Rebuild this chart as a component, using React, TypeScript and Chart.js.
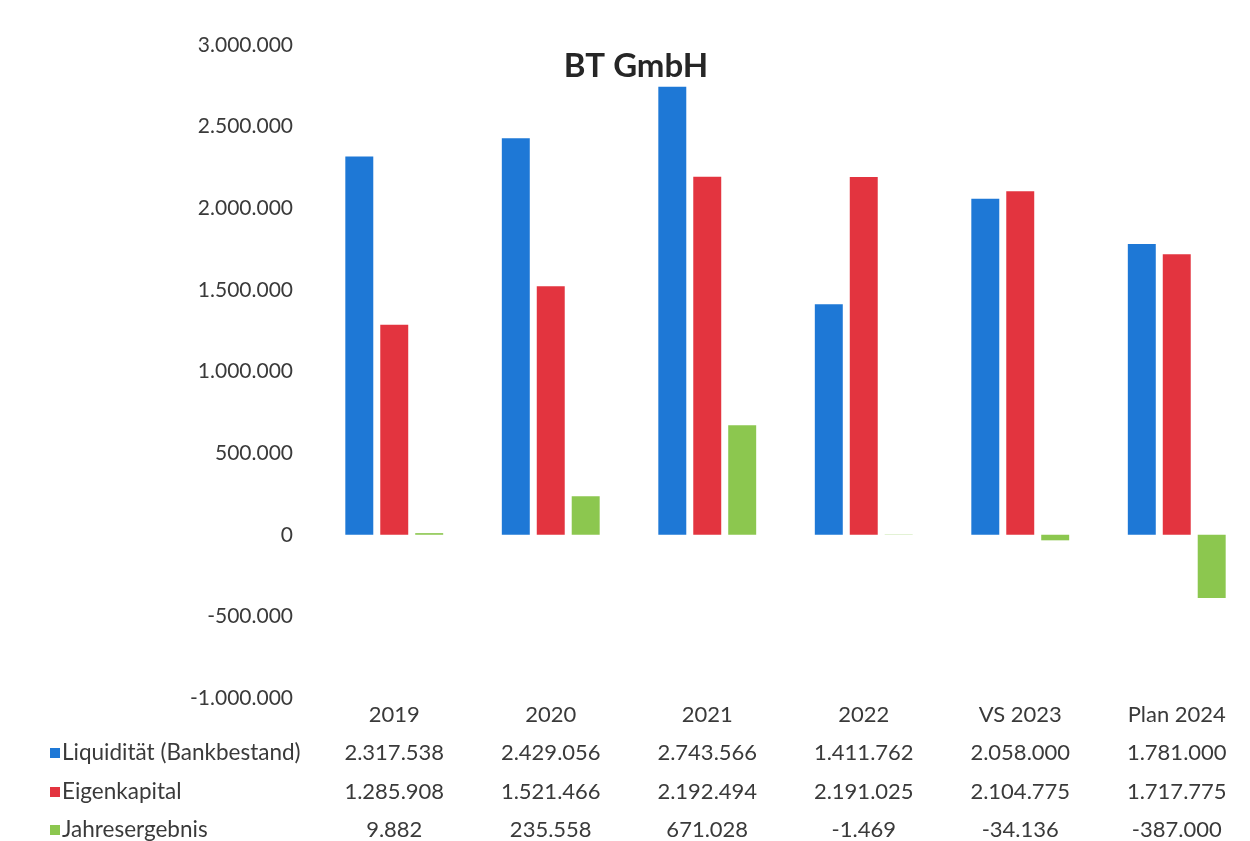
import React, { useEffect, useRef } from "react";
import { Chart, registerables } from "chart.js";

Chart.register(...registerables);

const categories = ["2019", "2020", "2021", "2022", "VS 2023", "Plan 2024"];
const seriesNames = ["Liquidität (Bankbestand)", "Eigenkapital", "Jahresergebnis"];
const liquiditaet = [2317538, 2429056, 2743566, 1411762, 2058000, 1781000];
const eigenkapital = [1285908, 1521466, 2192494, 2191025, 2104775, 1717775];
const jahresergebnis = [9882, 235558, 671028, -1469, -34136, -387000];
const colors = ["#1e78d6", "#e3343f", "#8cc74f"];
const yMin = -1000000;
const yMax = 3000000;
const yStep = 500000;
const title = "BT GmbH";

const FONT = "Lato, 'Liberation Sans', sans-serif";
const TEXT = "#3a3a3a";

function fmt(v: number): string {
  const neg = v < 0;
  const s = Math.round(Math.abs(v)).toString();
  const out = s.replace(/\B(?=(\d{3})+(?!\d))/g, ".");
  return (neg ? "-" : "") + out;
}

const tablePlugin = {
  id: "tablePlugin",
  afterDraw(chart: any) {
    const ctx = chart.ctx;
    const xs = chart.scales.x;
    const area = chart.chartArea;
    const series = [liquiditaet, eigenkapital, jahresergebnis];
    ctx.save();
    // title
    ctx.fillStyle = "#262626";
    ctx.font = `bold 33px ${FONT}`;
    ctx.textAlign = "center";
    ctx.textBaseline = "middle";
    ctx.fillText(title, 636, 66);

    ctx.font = `22px ${FONT}`;
    ctx.fillStyle = TEXT;
    const rowY = [area.bottom + 17, area.bottom + 55, area.bottom + 94, area.bottom + 132];
    categories.forEach((c, i) => {
      const x = xs.getPixelForValue(i);
      ctx.textAlign = "center";
      ctx.fillStyle = TEXT;
      ctx.fillText(c, x, rowY[0]);
      series.forEach((s, k) => {
        ctx.fillText(fmt(s[i]), x, rowY[k + 1]);
      });
    });
    ctx.font = `22.5px ${FONT}`;
    seriesNames.forEach((n, k) => {
      const y = rowY[k + 1];
      ctx.fillStyle = colors[k];
      ctx.fillRect(50, y - 5, 10, 10);
      ctx.fillStyle = TEXT;
      ctx.textAlign = "left";
      ctx.fillText(n, 62, y);
    });
    ctx.restore();
  },
};

export default function App() {
  const ref = useRef<HTMLCanvasElement>(null);
  useEffect(() => {
    if (!ref.current) return;
    const chart = new Chart(ref.current, {
      type: "bar",
      data: {
        labels: categories,
        datasets: [
          { label: seriesNames[0], data: liquiditaet, backgroundColor: colors[0] },
          { label: seriesNames[1], data: eigenkapital, backgroundColor: colors[1] },
          { label: seriesNames[2], data: jahresergebnis, backgroundColor: colors[2] },
        ],
      },
      options: {
        responsive: false,
        animation: false,
        devicePixelRatio: 1,
        layout: { padding: { left: 0, right: 0, top: 45, bottom: 0 } },
        datasets: { bar: { categoryPercentage: 0.67, barPercentage: 0.8 } },
        plugins: {
          legend: { display: false },
          title: { display: false },
          tooltip: { enabled: false },
        },
        scales: {
          x: {
            grid: { display: false, drawTicks: false },
            border: { display: false },
            ticks: { display: false },
            afterFit: (s: any) => {
              s.height = 143;
            },
          },
          y: {
            min: yMin,
            max: yMax,
            grid: { display: false, drawTicks: false },
            border: { display: false },
            ticks: {
              stepSize: yStep,
              padding: 23,
              color: TEXT,
              font: { family: FONT, size: 21 },
              callback: (v: any) => fmt(Number(v)),
            },
            afterFit: (s: any) => {
              s.width = 316;
            },
          },
        },
      },
      plugins: [tablePlugin],
    });
    return () => chart.destroy();
  }, []);
  return (
    <div style={{ position: "absolute", left: 0, top: 0, width: 1250, height: 841, overflow: "hidden", background: "#fff" }}>
      <canvas ref={ref} width={1255} height={841} style={{ display: "block" }} />
    </div>
  );
}
